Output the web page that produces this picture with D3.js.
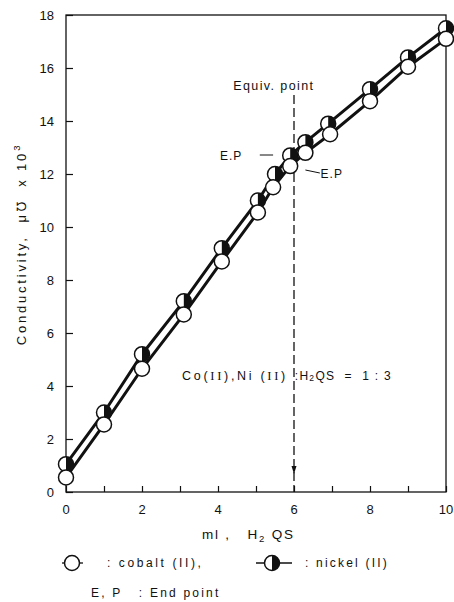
<!DOCTYPE html>
<html>
<head>
<meta charset="utf-8">
<script src="https://cdn.jsdelivr.net/npm/d3@7"></script>
<style>
  html, body { margin: 0; padding: 0; background: #fff; }
  #chart { width: 454px; height: 602px; }
  text { font-family: "Liberation Sans", Arial, sans-serif; fill: #111; white-space: pre; }
</style>
</head>
<body>
<div id="chart"></div>
<script>
// volumes of H2QS added (ml) and conductivity readings (x 10^3)
const nickelMl = [0, 1, 2, 3.1, 4.1, 5.05, 5.5, 5.9, 6.3, 6.9, 8.0, 9.0, 10.0];
const nickelCond = [1.05, 3.0, 5.2, 7.2, 9.2, 11.0, 12.0, 12.7, 13.2, 13.9, 15.2, 16.4, 17.5];
const cobaltMl = [0, 1, 2, 3.1, 4.1, 5.05, 5.45, 5.9, 6.3, 6.95, 8.0, 9.0, 10.0];
const cobaltCond = [0.55, 2.55, 4.65, 6.7, 8.7, 10.55, 11.5, 12.3, 12.8, 13.5, 14.75, 16.05, 17.1];
const xTickLabels = [0, 2, 4, 6, 8, 10];
const yTickLabels = [0, 2, 4, 6, 8, 10, 12, 14, 16, 18];
const equivPoint = 6;

function renderConductivity(containerId) {
  const container = d3.select(`#${containerId}`);
  container.selectAll("*").remove();

  const width = 454, height = 602;
  const margin = { top: 15, right: 8, bottom: 110, left: 66 };
  const innerWidth = width - margin.left - margin.right;
  const innerHeight = height - margin.top - margin.bottom;

  const svg = container.append("svg")
    .attr("width", width)
    .attr("height", height);

  const g = svg.append("g")
    .attr("transform", `translate(${margin.left},${margin.top})`);

  const x = d3.scaleLinear().domain([0, 10]).range([0, innerWidth]);
  const y = d3.scaleLinear().domain([0, 18]).range([innerHeight, 0]);

  // frame
  g.append("rect")
    .attr("width", innerWidth)
    .attr("height", innerHeight)
    .attr("fill", "none")
    .attr("stroke", "#111")
    .attr("stroke-width", 1.3);

  // inward ticks, labels drawn separately
  g.append("g")
    .attr("transform", `translate(0,${innerHeight})`)
    .call(d3.axisTop(x).ticks(10).tickSize(6).tickFormat(""))
    .call(a => a.select(".domain").remove())
    .selectAll("line").attr("stroke", "#111").attr("stroke-width", 1.2);

  g.append("g")
    .call(d3.axisRight(y).tickValues(yTickLabels).tickSize(7).tickFormat(""))
    .call(a => a.select(".domain").remove())
    .selectAll("line").attr("stroke", "#111").attr("stroke-width", 1.2);

  g.selectAll(".xlab")
    .data(xTickLabels)
    .join("text")
    .attr("class", "xlab")
    .attr("x", d => x(d))
    .attr("y", innerHeight + 22)
    .attr("text-anchor", "middle")
    .style("font-size", "13px")
    .text(d => d);

  g.selectAll(".ylab")
    .data(yTickLabels)
    .join("text")
    .attr("class", "ylab")
    .attr("x", -12)
    .attr("y", d => y(d) + 4.5)
    .attr("text-anchor", "end")
    .style("font-size", "13px")
    .text(d => d);

  // equivalence point dashed line
  g.append("line")
    .attr("x1", x(equivPoint)).attr("x2", x(equivPoint))
    .attr("y1", 80).attr("y2", innerHeight)
    .attr("stroke", "#111")
    .attr("stroke-width", 1.3)
    .attr("stroke-dasharray", "9,4");

  g.append("path")
    .attr("d", `M${x(equivPoint) - 2.5},${innerHeight - 26} L${x(equivPoint) + 2.5},${innerHeight - 26} L${x(equivPoint)},${innerHeight - 18} Z`)
    .attr("fill", "#111");

  g.append("text")
    .attr("x", x(4.4))
    .attr("y", 75)
    .style("font-size", "12.5px")
    .style("letter-spacing", "1.4px")
    .text("Equiv. point");

  // lines
  const nickel = nickelMl.map((m, i) => ({ ml: m, cond: nickelCond[i] }));
  const cobalt = cobaltMl.map((m, i) => ({ ml: m, cond: cobaltCond[i] }));

  const line = d3.line().x(d => x(d.ml)).y(d => y(d.cond));

  [nickel, cobalt].forEach(series => {
    g.append("path")
      .datum(series)
      .attr("d", line)
      .attr("fill", "none")
      .attr("stroke", "#111")
      .attr("stroke-width", 3);
  });

  const r = 7.5;
  const halfRight = `M0,${-r} A${r},${r} 0 0 1 0,${r} Z`;

  function nickelMark(sel) {
    sel.append("circle")
      .attr("r", r)
      .attr("fill", "#fff")
      .attr("stroke", "#111")
      .attr("stroke-width", 1.5);
    sel.append("path")
      .attr("d", halfRight)
      .attr("fill", "#111");
  }

  function cobaltMark(sel) {
    sel.append("circle")
      .attr("r", r)
      .attr("fill", "#fff")
      .attr("stroke", "#111")
      .attr("stroke-width", 1.5);
  }

  g.selectAll(".ni")
    .data(nickel)
    .join("g")
    .attr("class", "ni")
    .attr("transform", d => `translate(${x(d.ml)},${y(d.cond)})`)
    .call(nickelMark);

  g.selectAll(".co")
    .data(cobalt)
    .join("g")
    .attr("class", "co")
    .attr("transform", d => `translate(${x(d.ml)},${y(d.cond)})`)
    .call(cobaltMark);

  // end point labels
  g.append("text")
    .attr("x", x(4.05))
    .attr("y", 145)
    .style("font-size", "12px")
    .style("letter-spacing", "1px")
    .text("E.P");
  g.append("line")
    .attr("x1", x(5.1)).attr("x2", x(5.45))
    .attr("y1", 140).attr("y2", 140)
    .attr("stroke", "#111");

  g.append("line")
    .attr("x1", x(6.3)).attr("x2", x(6.68))
    .attr("y1", 155).attr("y2", 158)
    .attr("stroke", "#111");
  g.append("text")
    .attr("x", x(6.7))
    .attr("y", 163)
    .style("font-size", "12px")
    .style("letter-spacing", "1px")
    .text("E.P");

  // ratio note, split around the dashed line
  const noteL = g.append("text")
    .attr("x", x(5.84))
    .attr("y", 365)
    .attr("text-anchor", "end")
    .style("font-size", "12.5px")
    .style("letter-spacing", "2.7px");
  noteL.append("tspan").text("Co(");
  noteL.append("tspan").style("font-family", "Liberation Serif").text("II");
  noteL.append("tspan").text("),Ni (");
  noteL.append("tspan").style("font-family", "Liberation Serif").text("II");
  noteL.append("tspan").text(")");

  const noteR = g.append("text")
    .attr("x", x(6.02))
    .attr("y", 365)
    .style("font-size", "12px")
    .style("letter-spacing", "1.3px");
  noteR.append("tspan").text(":H");
  noteR.append("tspan").style("font-size", "8.5px").attr("dy", 1).text("2");
  noteR.append("tspan").attr("dy", -1).text("QS  =  1 : 3");

  // axis titles
  const xt = g.append("text")
    .attr("x", x(4.8))
    .attr("y", innerHeight + 47)
    .attr("text-anchor", "middle")
    .style("font-size", "13.5px")
    .style("letter-spacing", "1.8px");
  xt.append("tspan").text("ml ,   H");
  xt.append("tspan").style("font-size", "9.5px").attr("dy", 3).text("2");
  xt.append("tspan").attr("dy", -3).text(" QS");

  const yt = svg.append("text")
    .attr("transform", "translate(26,244) rotate(-90)")
    .attr("text-anchor", "middle")
    .style("font-size", "13px")
    .style("letter-spacing", "2.8px");
  yt.append("tspan").text("Conductivity,  μ℧  x 10");
  yt.append("tspan").style("font-size", "9.5px").attr("dy", -6).text("3");

  // legend
  const lg = svg.append("g");
  const ly = 563;

  const coL = lg.append("g").attr("transform", `translate(72,${ly})`);
  coL.append("line").attr("x1", -10).attr("x2", 11).attr("stroke", "#111").attr("stroke-width", 1.3);
  coL.call(cobaltMark);
  lg.append("text")
    .attr("x", 107).attr("y", ly + 4)
    .style("font-size", "12px")
    .style("letter-spacing", "2.6px")
    .text(": cobalt (II),");

  const niL = lg.append("g").attr("transform", `translate(272,${ly})`);
  niL.append("line").attr("x1", -16).attr("x2", 20).attr("stroke", "#111").attr("stroke-width", 1.3);
  niL.call(nickelMark);
  lg.append("text")
    .attr("x", 305).attr("y", ly + 4)
    .style("font-size", "12px")
    .style("letter-spacing", "2.2px")
    .text(": nickel (II)");

  lg.append("text")
    .attr("x", 91).attr("y", 597)
    .style("font-size", "12px")
    .style("letter-spacing", "2.2px")
    .text("E, P   : End point");
}

document.addEventListener("DOMContentLoaded", () => {
  renderConductivity("chart");
});
</script>
</body>
</html>
